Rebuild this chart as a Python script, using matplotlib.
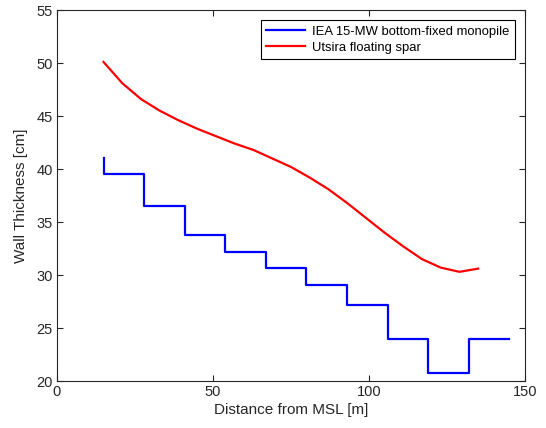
import numpy as np
import matplotlib
matplotlib.use("Agg")
import matplotlib.pyplot as plt

# Monopile: section boundaries along the tower (m from MSL) and wall thickness per section (cm)
monopile_edges = [15, 28, 41, 54, 67, 80, 93, 106, 119, 132, 145]
monopile_top_value = 41.0
monopile_thickness = [39.5, 36.5, 33.8, 32.2, 30.7, 29.1, 27.2, 24.0, 20.8, 24.0]

# Spar: sampled wall thickness (cm) against distance from MSL (m)
spar_distance = [15, 21, 27, 33, 39, 45, 51, 57, 63, 69, 75, 81, 87, 93, 99,
                 105, 111, 117, 123, 129, 135]
spar_thickness = [50.1, 48.1, 46.6, 45.5, 44.6, 43.8, 43.1, 42.4, 41.8, 41.0,
                  40.2, 39.2, 38.1, 36.8, 35.4, 34.0, 32.7, 31.5, 30.7, 30.3, 30.6]

series_labels = ["IEA 15-MW bottom-fixed monopile", "Utsira floating spar"]
x_ticks = [0, 50, 100, 150]
y_ticks = [20, 25, 30, 35, 40, 45, 50, 55]

plt.rcParams["font.family"] = ["Liberation Sans", "DejaVu Sans"]

fig = plt.figure(figsize=(5.46, 4.28), dpi=100)
ax = fig.add_axes([0.1038, 0.1098, 0.8577, 0.8668])

# Staircase outline of the monopile sections
edges = np.asarray(monopile_edges, dtype=float)
vals = np.asarray(monopile_thickness, dtype=float)
step_x = np.concatenate([[edges[0]], np.ravel(np.column_stack([edges[:-1], edges[1:]]))])
step_y = np.concatenate([[monopile_top_value], np.repeat(vals, 2)])

ax.plot(step_x, step_y, color=(0, 0, 1), lw=1.6, label=series_labels[0])
ax.plot(spar_distance, spar_thickness, color=(1, 0, 0), lw=1.6, label=series_labels[1])

ax.set_xlim(0, 150)
ax.set_ylim(20, 55)
ax.set_xticks(x_ticks)
ax.set_yticks(y_ticks)

axis_color = "#262626"
for side in ax.spines.values():
    side.set_color(axis_color)
    side.set_linewidth(0.8)
ax.tick_params(direction="in", top=True, right=True, length=4, width=0.8,
               colors=axis_color, labelsize=10.5, pad=3)

ax.set_xlabel("Distance from MSL [m]", fontsize=11, color=axis_color, labelpad=3)
ax.set_ylabel("Wall Thickness [cm]", fontsize=11, color=axis_color, labelpad=6)

leg = ax.legend(loc="upper right", fontsize=9.4, frameon=True, fancybox=False,
                edgecolor="black", framealpha=1, handlelength=3.0,
                borderaxespad=0.8, borderpad=0.4, labelspacing=0.3,
                handletextpad=0.5)
leg.get_frame().set_linewidth(0.8)

fig.savefig("out.png", dpi=100)
